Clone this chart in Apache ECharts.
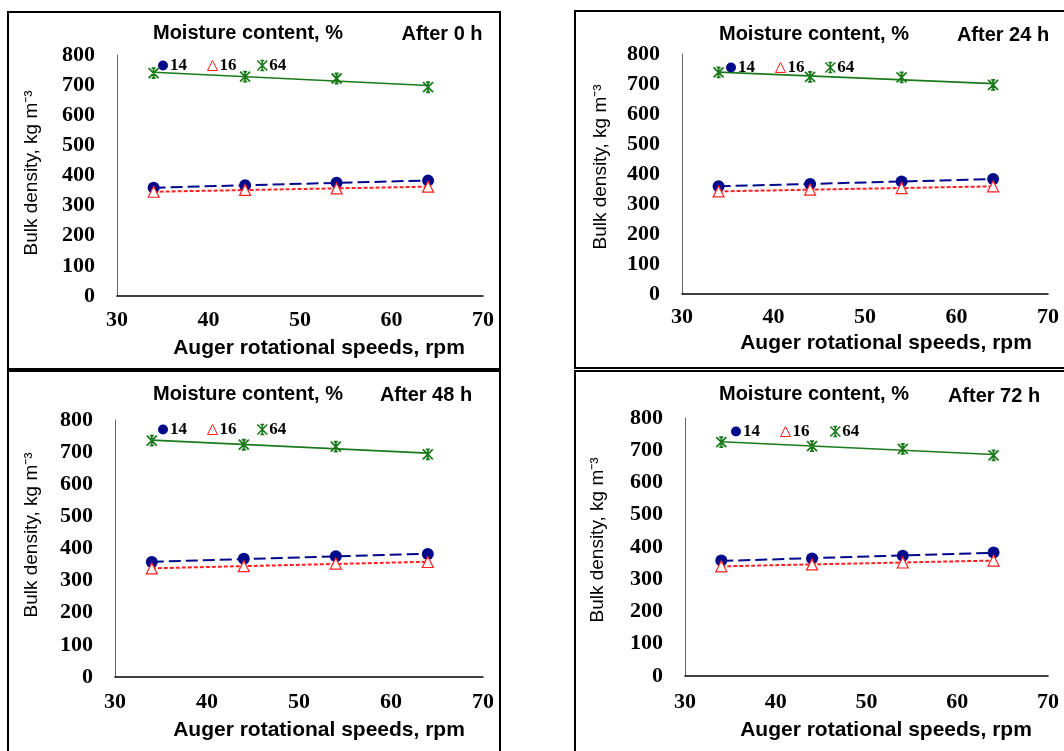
<!DOCTYPE html>
<html>
<head>
<meta charset="utf-8">
<script src="https://cdn.jsdelivr.net/npm/echarts@6/dist/echarts.min.js"></script>
<style>html,body{margin:0;padding:0;background:#fff;}#c{width:1064px;height:751px;}</style>
</head>
<body>
<div id="c"></div>
<script>
// ---- data ----
const speeds = [34, 44, 54, 64];               // auger rotational speed, rpm
const seriesNames = ['14', '16', '64'];        // moisture content, %
const panelTitles = ['After 0 h', 'After 24 h', 'After 48 h', 'After 72 h'];
const xTicks = [30, 40, 50, 60, 70];
const yTicks = [0, 100, 200, 300, 400, 500, 600, 700, 800];

const h0_mc14 = [359, 368, 376, 383];
const h0_mc16 = [346, 352, 357, 363];
const h0_mc64 = [740, 728, 722, 693];

const h24_mc14 = [359, 367, 375, 383];
const h24_mc16 = [342, 348, 353, 359];
const h24_mc64 = [739, 724, 722, 697];

const h48_mc14 = [358, 368, 376, 383];
const h48_mc16 = [338, 345, 353, 358];
const h48_mc64 = [736, 723, 717, 693];

const h72_mc14 = [358, 364, 373, 383];
const h72_mc16 = [340, 346, 352, 358];
const h72_mc64 = [725, 713, 704, 684];

const panelData = [
  [h0_mc14, h0_mc16, h0_mc64],
  [h24_mc14, h24_mc16, h24_mc64],
  [h48_mc14, h48_mc16, h48_mc64],
  [h72_mc14, h72_mc16, h72_mc64]
];

// ---- layout ----
const grids = [
  {left: 117, top: 55, width: 366, height: 241},
  {left: 682, top: 54, width: 366, height: 240},
  {left: 115, top: 420, width: 368, height: 257},
  {left: 685, top: 418, width: 363, height: 258}
];
const labelMargins = [13, 12, 14, 15];
const boxes = [
  {x: 8, y: 12, w: 492, h: 357},
  {x: 575, y: 11, w: 500, h: 357},
  {x: 8, y: 371, w: 492, h: 390},
  {x: 575, y: 371, w: 500, h: 390}
];
const mcTitlePos = [[248, 33], [814, 34], [248, 394], [814, 394]];
const afterPos = [[442, 34], [1003, 35], [426, 395], [994, 396]];
const yTitlePos = [[32, 173], [601, 167], [32, 535], [598, 540]];
const xTitlePos = [[319, 348], [886, 343], [319, 730], [886, 730]];
const legendPos = [[153, 52], [721, 54], [153, 416], [726, 418]];

const colors = ['#000a8a', '#ff2020', '#1a7a1a'];
const starPath = 'path://M0,0L10,10M10,0L0,10M5,0L5,10M3,0L7,0M3,10L7,10';
const symbols = ['circle', 'triangle', starPath];

function fit(xs, ys) {
  const n = xs.length;
  const mx = xs.reduce((a, b) => a + b, 0) / n;
  const my = ys.reduce((a, b) => a + b, 0) / n;
  let sxy = 0, sxx = 0;
  for (let i = 0; i < n; i++) { sxy += (xs[i] - mx) * (ys[i] - my); sxx += (xs[i] - mx) ** 2; }
  const b = sxy / sxx, a = my - b * mx;
  return [[xs[0], a + b * xs[0]], [xs[n - 1], a + b * xs[n - 1]]];
}

const serifBold = {fontFamily: 'Liberation Serif', fontWeight: 'bold', color: '#000'};
const sansBold = {fontFamily: 'Liberation Sans', fontWeight: 'bold', color: '#000'};

const xAxes = [], yAxes = [], series = [], legends = [], graphics = [];
grids.forEach((g, i) => {
  xAxes.push({
    type: 'value', gridIndex: i, min: xTicks[0], max: xTicks[xTicks.length - 1], interval: 10,
    axisLine: {show: true, lineStyle: {color: '#000', width: 1.5}},
    axisTick: {show: false}, splitLine: {show: false},
    axisLabel: Object.assign({fontSize: 22, margin: labelMargins[i]}, serifBold)
  });
  yAxes.push({
    type: 'value', gridIndex: i, min: yTicks[0], max: yTicks[yTicks.length - 1], interval: 100,
    axisLine: {show: true, lineStyle: {color: '#666', width: 1}},
    axisTick: {show: false}, splitLine: {show: false},
    axisLabel: Object.assign({fontSize: 22, margin: 22}, serifBold)
  });
  panelData[i].forEach((vals, k) => {
    const pts = speeds.map((s, j) => [s, vals[j]]);
    // trendline
    series.push({
      type: 'line', xAxisIndex: i, yAxisIndex: i, name: seriesNames[k] + ' trend',
      data: fit(speeds, vals), showSymbol: false, silent: true, z: 2,
      lineStyle: {color: colors[k], width: k === 2 ? 1.6 : 2,
        type: k === 0 ? [12, 5] : (k === 1 ? [4, 2] : 'solid')}
    });
    // markers
    const markerStyle = k === 0 ? {color: colors[0], opacity: 1}
      : k === 1 ? {color: '#fff', borderColor: colors[1], borderWidth: 1.2, opacity: 1}
      : {color: colors[2], borderColor: colors[2], borderWidth: 1.8, opacity: 1};
    series.push({
      type: 'scatter', xAxisIndex: i, yAxisIndex: i, name: seriesNames[k],
      data: pts, symbol: symbols[k], symbolSize: k === 0 ? 12 : (k === 1 ? 11 : 10),
      itemStyle: markerStyle, z: 3
    });
  });
  legends.push({
    left: legendPos[i][0], top: legendPos[i][1], itemWidth: 10, itemHeight: 10, itemGap: 20,
    selectedMode: false,
    textStyle: Object.assign({fontSize: 17, padding: [0, 0, 0, -3]}, serifBold),
    data: [
      {name: '14', icon: 'circle', itemStyle: {color: colors[0]}},
      {name: '16', icon: 'triangle', itemStyle: {color: '#fff', borderColor: colors[1], borderWidth: 1}},
      {name: '64', icon: starPath, itemStyle: {color: colors[2], borderColor: colors[2], borderWidth: 1.6}}
    ]
  });
  const b = boxes[i];
  graphics.push({type: 'rect', shape: {x: b.x, y: b.y, width: b.w, height: b.h},
    style: {fill: 'none', stroke: '#000', lineWidth: 2}, z: 100});
  graphics.push({type: 'text', x: mcTitlePos[i][0], y: mcTitlePos[i][1],
    style: Object.assign({text: 'Moisture content, %', fontSize: 20, align: 'center', verticalAlign: 'middle'}, sansBold)});
  graphics.push({type: 'text', x: afterPos[i][0], y: afterPos[i][1],
    style: Object.assign({text: panelTitles[i], fontSize: 20, align: 'center', verticalAlign: 'middle'}, sansBold)});
  graphics.push({type: 'text', x: yTitlePos[i][0], y: yTitlePos[i][1], rotation: Math.PI / 2,
    style: {text: 'Bulk density, kg m\u207B\u00B3', fontFamily: 'Liberation Sans', fontWeight: 'normal', fontSize: 19, fill: '#000',
      align: 'center', verticalAlign: 'middle'}});
  graphics.push({type: 'text', x: xTitlePos[i][0], y: xTitlePos[i][1],
    style: Object.assign({text: 'Auger rotational speeds, rpm', fontSize: 21, align: 'center', verticalAlign: 'middle'}, sansBold)});
});

const chart = echarts.init(document.getElementById('c'), null, {renderer: 'canvas'});
chart.setOption({
  backgroundColor: '#fff',
  animation: false,
  grid: grids,
  xAxis: xAxes,
  yAxis: yAxes,
  legend: legends,
  series: series,
  graphic: graphics
});
</script>
</body>
</html>
